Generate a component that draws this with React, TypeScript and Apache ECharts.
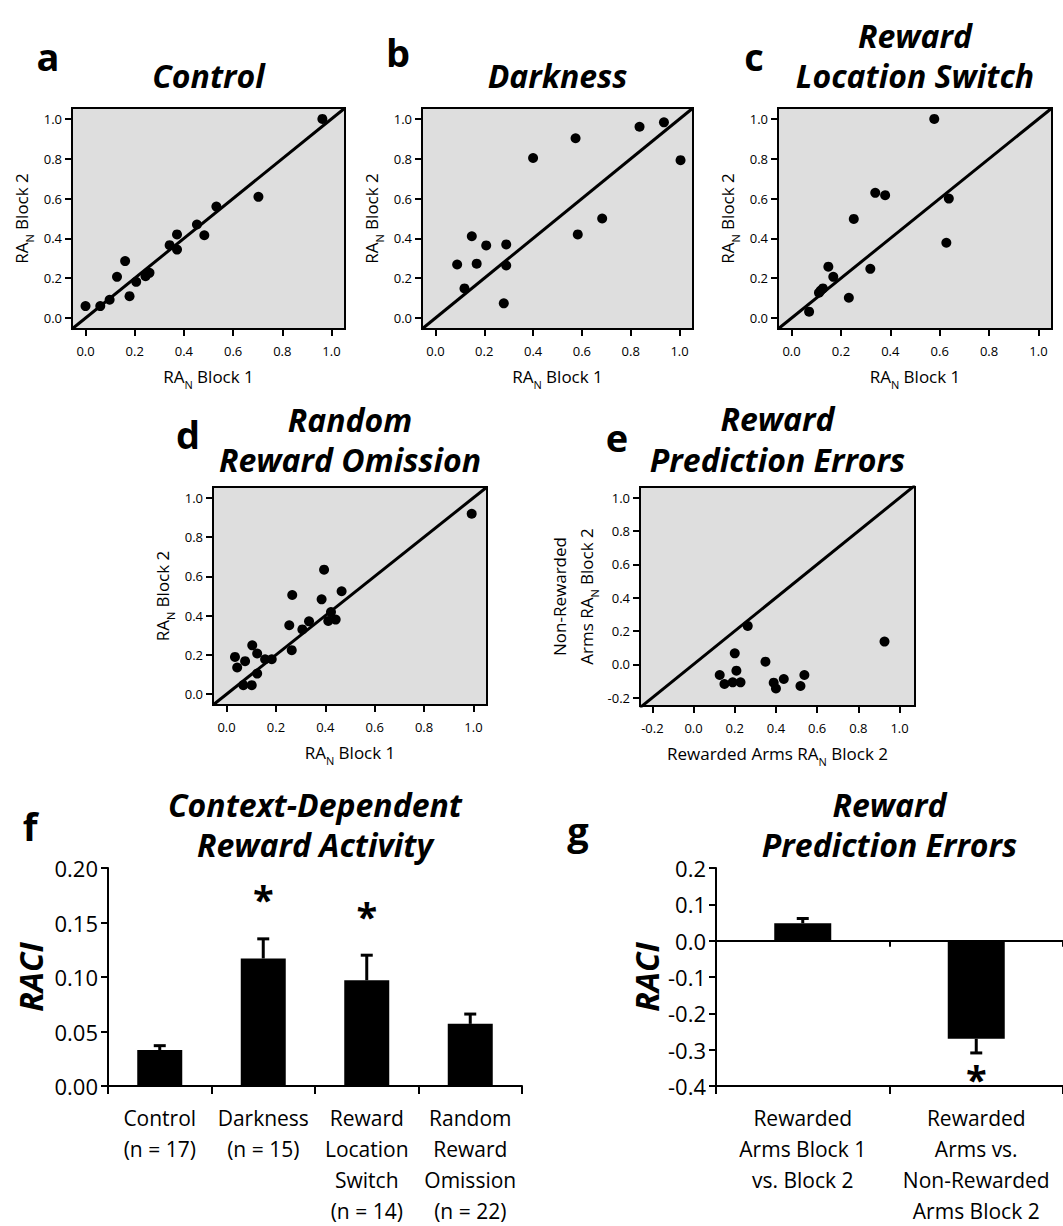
import React, { useEffect, useRef } from 'react';
import * as echarts from 'echarts';

// ---------- data ----------
const ctrlX = [0.963, 0.703, 0.532, 0.453, 0.483, 0.372, 0.342, 0.372, 0.26, 0.244, 0.206, 0.179, 0.161, 0.128, 0.098, 0.06, 0.0];
const ctrlY = [1.0, 0.609, 0.56, 0.47, 0.416, 0.42, 0.366, 0.344, 0.227, 0.21, 0.182, 0.11, 0.286, 0.207, 0.092, 0.06, 0.06];

const darkX = [0.936, 0.836, 1.004, 0.574, 0.4, 0.683, 0.583, 0.29, 0.208, 0.149, 0.169, 0.089, 0.29, 0.119, 0.28];
const darkY = [0.983, 0.961, 0.793, 0.903, 0.804, 0.5, 0.42, 0.37, 0.365, 0.411, 0.273, 0.269, 0.264, 0.149, 0.074];

const switchX = [0.578, 0.339, 0.379, 0.637, 0.252, 0.627, 0.319, 0.149, 0.169, 0.127, 0.111, 0.232, 0.071, 0.118];
const switchY = [1.0, 0.629, 0.617, 0.6, 0.498, 0.378, 0.247, 0.258, 0.207, 0.149, 0.127, 0.102, 0.032, 0.138];

const omitX = [0.993, 0.395, 0.466, 0.385, 0.266, 0.423, 0.412, 0.442, 0.334, 0.307, 0.254, 0.264, 0.104, 0.124, 0.075, 0.034, 0.156, 0.183, 0.043, 0.124, 0.068, 0.102];
const omitY = [0.919, 0.634, 0.524, 0.483, 0.505, 0.418, 0.373, 0.38, 0.371, 0.33, 0.351, 0.224, 0.249, 0.207, 0.168, 0.19, 0.178, 0.178, 0.136, 0.105, 0.046, 0.046];

const rpeX = [0.263, 0.927, 0.2, 0.349, 0.127, 0.208, 0.538, 0.438, 0.389, 0.15, 0.19, 0.228, 0.519, 0.4];
const rpeY = [0.231, 0.137, 0.066, 0.016, -0.064, -0.038, -0.064, -0.088, -0.11, -0.118, -0.108, -0.108, -0.13, -0.145];

const scatTicks = [0, 0.2, 0.4, 0.6, 0.8, 1.0];
const rpeTicks = [-0.2, 0, 0.2, 0.4, 0.6, 0.8, 1.0];
const scatRange = [-0.055, 1.055];
const rpeXRange = [-0.26, 1.075];
const rpeYRange = [-0.25, 1.065];

const fNames = ['Control', 'Darkness', 'Reward\nLocation\nSwitch', 'Random\nReward\nOmission'];
const fN = [17, 15, 14, 22];
const fMeans = [0.033, 0.117, 0.097, 0.057];
const fSem = [0.004, 0.018, 0.023, 0.009];
const fStarIdx = [1, 2];
const fStarY = [0.18, 0.164];

const gNames = ['Rewarded\nArms Block 1\nvs. Block 2', 'Rewarded\nArms vs.\nNon-Rewarded\nArms Block 2'];
const gMeans = [0.048, -0.27];
const gSem = [0.013, 0.039];
const gStarIdx = [1];
const gStarY = [-0.355];

// ---------- styling / layout ----------
const FONT = "'Open Sans', 'Noto Sans', sans-serif";
const BG = '#dedede';

const RICH = {
  m: { fontSize: 17, fontFamily: FONT, color: '#000', lineHeight: 27, verticalAlign: 'middle' },
  s: { fontSize: 11, fontFamily: FONT, color: '#000', lineHeight: 19, verticalAlign: 'bottom' },
};
const raName = (pre: string, post: string) => `{m|${pre}RA}{s|N}{m|${post}}`;

const panels = [
  { x: ctrlX, y: ctrlY, box: { left: 72, top: 108, width: 273, height: 221 }, xr: scatRange, yr: scatRange, ticks: scatTicks,
    xName: raName('', ' Block 1'), yName: raName('', ' Block 2'), yGap: 37 },
  { x: darkX, y: darkY, box: { left: 422, top: 108, width: 271, height: 221 }, xr: scatRange, yr: scatRange, ticks: scatTicks,
    xName: raName('', ' Block 1'), yName: raName('', ' Block 2'), yGap: 37 },
  { x: switchX, y: switchY, box: { left: 778, top: 108, width: 274, height: 221 }, xr: scatRange, yr: scatRange, ticks: scatTicks,
    xName: raName('', ' Block 1'), yName: raName('', ' Block 2'), yGap: 37 },
  { x: omitX, y: omitY, box: { left: 213, top: 487, width: 274, height: 218 }, xr: scatRange, yr: scatRange, ticks: scatTicks,
    xName: raName('', ' Block 1'), yName: raName('', ' Block 2'), yGap: 37 },
  { x: rpeX, y: rpeY, box: { left: 640, top: 487, width: 275, height: 219 }, xr: rpeXRange, yr: rpeYRange, ticks: rpeTicks,
    xName: raName('Rewarded Arms ', ' Block 2'), yName: '{m|Non-Rewarded}\n' + raName('Arms ', ' Block 2'), yGap: 40 },
];

const titles = [
  { text: 'Control', x: 208.5, y: 75 },
  { text: 'Darkness', x: 557.5, y: 75 },
  { text: 'Reward', x: 915, y: 35 },
  { text: 'Location Switch', x: 915, y: 75 },
  { text: 'Random', x: 350, y: 419 },
  { text: 'Reward Omission', x: 350, y: 459 },
  { text: 'Reward', x: 777.5, y: 418 },
  { text: 'Prediction Errors', x: 777.5, y: 459 },
  { text: 'Context-Dependent', x: 315, y: 804 },
  { text: 'Reward Activity', x: 315, y: 844 },
  { text: 'Reward', x: 889.5, y: 804 },
  { text: 'Prediction Errors', x: 889.5, y: 844 },
];
const letters = [
  { text: 'a', x: 48, y: 56 },
  { text: 'b', x: 398, y: 52 },
  { text: 'c', x: 754, y: 56 },
  { text: 'd', x: 188, y: 434 },
  { text: 'e', x: 617, y: 437 },
  { text: 'f', x: 30, y: 826 },
  { text: 'g', x: 578, y: 830 },
];

function errRender(params: any, api: any) {
  const i = api.value(0);
  const a = api.coord([i, api.value(1)]);
  const b = api.coord([i, api.value(2)]);
  const hw = 6;
  return {
    type: 'group',
    children: [
      { type: 'line', shape: { x1: a[0], y1: a[1], x2: b[0], y2: b[1] }, style: { stroke: '#000', lineWidth: 3 } },
      { type: 'line', shape: { x1: b[0] - hw, y1: b[1], x2: b[0] + hw, y2: b[1] }, style: { stroke: '#000', lineWidth: 3 } },
    ],
  };
}

const starLabel = {
  show: true, position: 'inside', formatter: '*', fontSize: 38, fontWeight: 'bold', color: '#000',
  fontFamily: FONT, offset: [0, 9], opacity: 1,
};

function buildOption() {
  const grid: any[] = [];
  const xAxis: any[] = [];
  const yAxis: any[] = [];
  const series: any[] = [];

  panels.forEach((p, i) => {
    grid.push({ ...p.box, show: true, backgroundColor: BG, borderColor: '#000', borderWidth: 2 });
    const common = (range: number[]) => ({
      type: 'value', gridIndex: i, min: range[0], max: range[1],
      axisLine: { show: true, onZero: false, lineStyle: { color: '#000', width: 2 } },
      axisTick: { show: true, length: 7, customValues: p.ticks, lineStyle: { color: '#000', width: 2 } },
      axisLabel: { customValues: p.ticks, formatter: (v: number) => v.toFixed(1), color: '#000', fontSize: 13, fontFamily: FONT },
      splitLine: { show: false },
      nameLocation: 'middle',
      nameTextStyle: { rich: RICH },
    });
    const xa: any = { ...common(p.xr), name: p.xName, nameGap: 34 };
    xa.axisLabel = { ...xa.axisLabel, margin: 15 };
    const ya: any = { ...common(p.yr), name: p.yName, nameGap: p.yGap, nameRotate: 90 };
    ya.axisLabel = { ...ya.axisLabel, margin: 10 };
    xAxis.push(xa);
    yAxis.push(ya);
    const lo = Math.min(p.xr[0], p.yr[0]);
    const hi = Math.max(p.xr[1], p.yr[1]);
    series.push({
      type: 'line', xAxisIndex: i, yAxisIndex: i, data: [[lo, lo], [hi, hi]], symbol: 'none', clip: true, silent: true,
      lineStyle: { color: '#000', width: 3 },
    });
    series.push({
      type: 'scatter', xAxisIndex: i, yAxisIndex: i, data: p.x.map((v, k) => [v, p.y[k]]), symbolSize: 10,
      itemStyle: { color: '#000', opacity: 1 },
    });
  });

  // ---- panel f ----
  const fi = 5;
  grid.push({ left: 108, top: 868, width: 414, height: 221 });
  xAxis.push({
    type: 'category', gridIndex: fi, data: fNames.map((n, k) => `${n}\n(n = ${fN[k]})`),
    axisLine: { lineStyle: { color: '#000', width: 2 } },
    axisTick: { show: true, alignWithLabel: false, length: 8, lineStyle: { color: '#000', width: 2 } },
    axisLabel: { interval: 0, color: '#000', fontSize: 21, lineHeight: 31, margin: 16, fontFamily: FONT },
  });
  yAxis.push({
    type: 'value', gridIndex: fi, min: 0, max: 0.2, interval: 0.05,
    axisLine: { show: true, lineStyle: { color: '#000', width: 2 } },
    axisTick: { show: true, length: 7, lineStyle: { color: '#000', width: 2 } },
    axisLabel: { formatter: (v: number) => v.toFixed(2), color: '#000', fontSize: 22, margin: 10, fontFamily: FONT },
    splitLine: { show: false },
    name: 'RACI', nameLocation: 'middle', nameRotate: 90, nameGap: 62,
    nameTextStyle: { fontSize: 32, fontWeight: 'bold', fontStyle: 'italic', fontFamily: FONT, color: '#000' },
  });
  series.push({ type: 'bar', xAxisIndex: fi, yAxisIndex: fi, data: fMeans, barWidth: 45, itemStyle: { color: '#000' } });
  series.push({
    type: 'custom', xAxisIndex: fi, yAxisIndex: fi, renderItem: errRender, encode: { x: 0, y: [1, 2] },
    data: fMeans.map((m, k) => [k, m, m + fSem[k]]), silent: true,
  });
  series.push({
    type: 'scatter', xAxisIndex: fi, yAxisIndex: fi, symbolSize: 0, itemStyle: { color: '#000', opacity: 1 },
    data: fStarIdx.map((c, k) => [c, fStarY[k]]), label: starLabel, silent: true,
  });

  // ---- panel g ----
  const gi = 6;
  grid.push({ left: 716, top: 868, width: 347, height: 220 });
  xAxis.push({
    type: 'category', gridIndex: gi, data: gNames,
    axisLine: { onZero: false, lineStyle: { color: '#000', width: 2 } },
    axisTick: { show: true, alignWithLabel: false, length: 8, lineStyle: { color: '#000', width: 2 } },
    axisLabel: { interval: 0, color: '#000', fontSize: 21, lineHeight: 31, margin: 16, fontFamily: FONT },
  });
  xAxis.push({
    type: 'category', gridIndex: gi, data: gNames, position: 'top',
    axisLine: { show: true, onZero: true, lineStyle: { color: '#000', width: 2 } },
    axisTick: { show: true, inside: true, alignWithLabel: false, length: 6, lineStyle: { color: '#000', width: 2 } },
    axisLabel: { show: false },
  });
  yAxis.push({
    type: 'value', gridIndex: gi, min: -0.4, max: 0.2, interval: 0.1,
    axisLine: { show: true, onZero: false, lineStyle: { color: '#000', width: 2 } },
    axisTick: { show: true, length: 7, lineStyle: { color: '#000', width: 2 } },
    axisLabel: { formatter: (v: number) => v.toFixed(1), color: '#000', fontSize: 22, margin: 10, fontFamily: FONT },
    splitLine: { show: false },
    name: 'RACI', nameLocation: 'middle', nameRotate: 90, nameGap: 54,
    nameTextStyle: { fontSize: 32, fontWeight: 'bold', fontStyle: 'italic', fontFamily: FONT, color: '#000' },
  });
  series.push({ type: 'bar', xAxisIndex: 6, yAxisIndex: gi, data: gMeans, barWidth: 57, itemStyle: { color: '#000' } });
  series.push({
    type: 'custom', xAxisIndex: 6, yAxisIndex: gi, renderItem: errRender, encode: { x: 0, y: [1, 2] },
    data: gMeans.map((m, k) => [k, m, m + (m >= 0 ? gSem[k] : -gSem[k])]), silent: true,
  });
  series.push({
    type: 'scatter', xAxisIndex: 6, yAxisIndex: gi, symbolSize: 0, itemStyle: { color: '#000', opacity: 1 },
    data: gStarIdx.map((c, k) => [c, gStarY[k]]), label: starLabel, silent: true,
  });

  const graphic: any[] = [];
  titles.forEach((t) => {
    graphic.push({
      type: 'text', x: t.x, y: t.y, silent: true,
      style: { text: t.text, fill: '#000', fontSize: 32, fontWeight: 'bold', fontStyle: 'italic', fontFamily: FONT, align: 'center', verticalAlign: 'middle' },
    });
  });
  letters.forEach((t) => {
    graphic.push({
      type: 'text', x: t.x, y: t.y, silent: true,
      style: { text: t.text, fill: '#000', fontSize: 38, fontWeight: 'bold', fontFamily: FONT, align: 'center', verticalAlign: 'middle' },
    });
  });

  return {
    animation: false,
    backgroundColor: '#ffffff',
    textStyle: { fontFamily: FONT },
    grid, xAxis, yAxis, series, graphic,
  };
}

export default function App() {
  const ref = useRef<HTMLDivElement>(null);
  useEffect(() => {
    if (!ref.current) return;
    const chart = echarts.init(ref.current, undefined, { renderer: 'svg' });
    chart.setOption(buildOption() as any);
    return () => chart.dispose();
  }, []);
  return <div ref={ref} style={{ position: 'absolute', left: 0, top: 0, width: 1063, height: 1226 }} />;
}
